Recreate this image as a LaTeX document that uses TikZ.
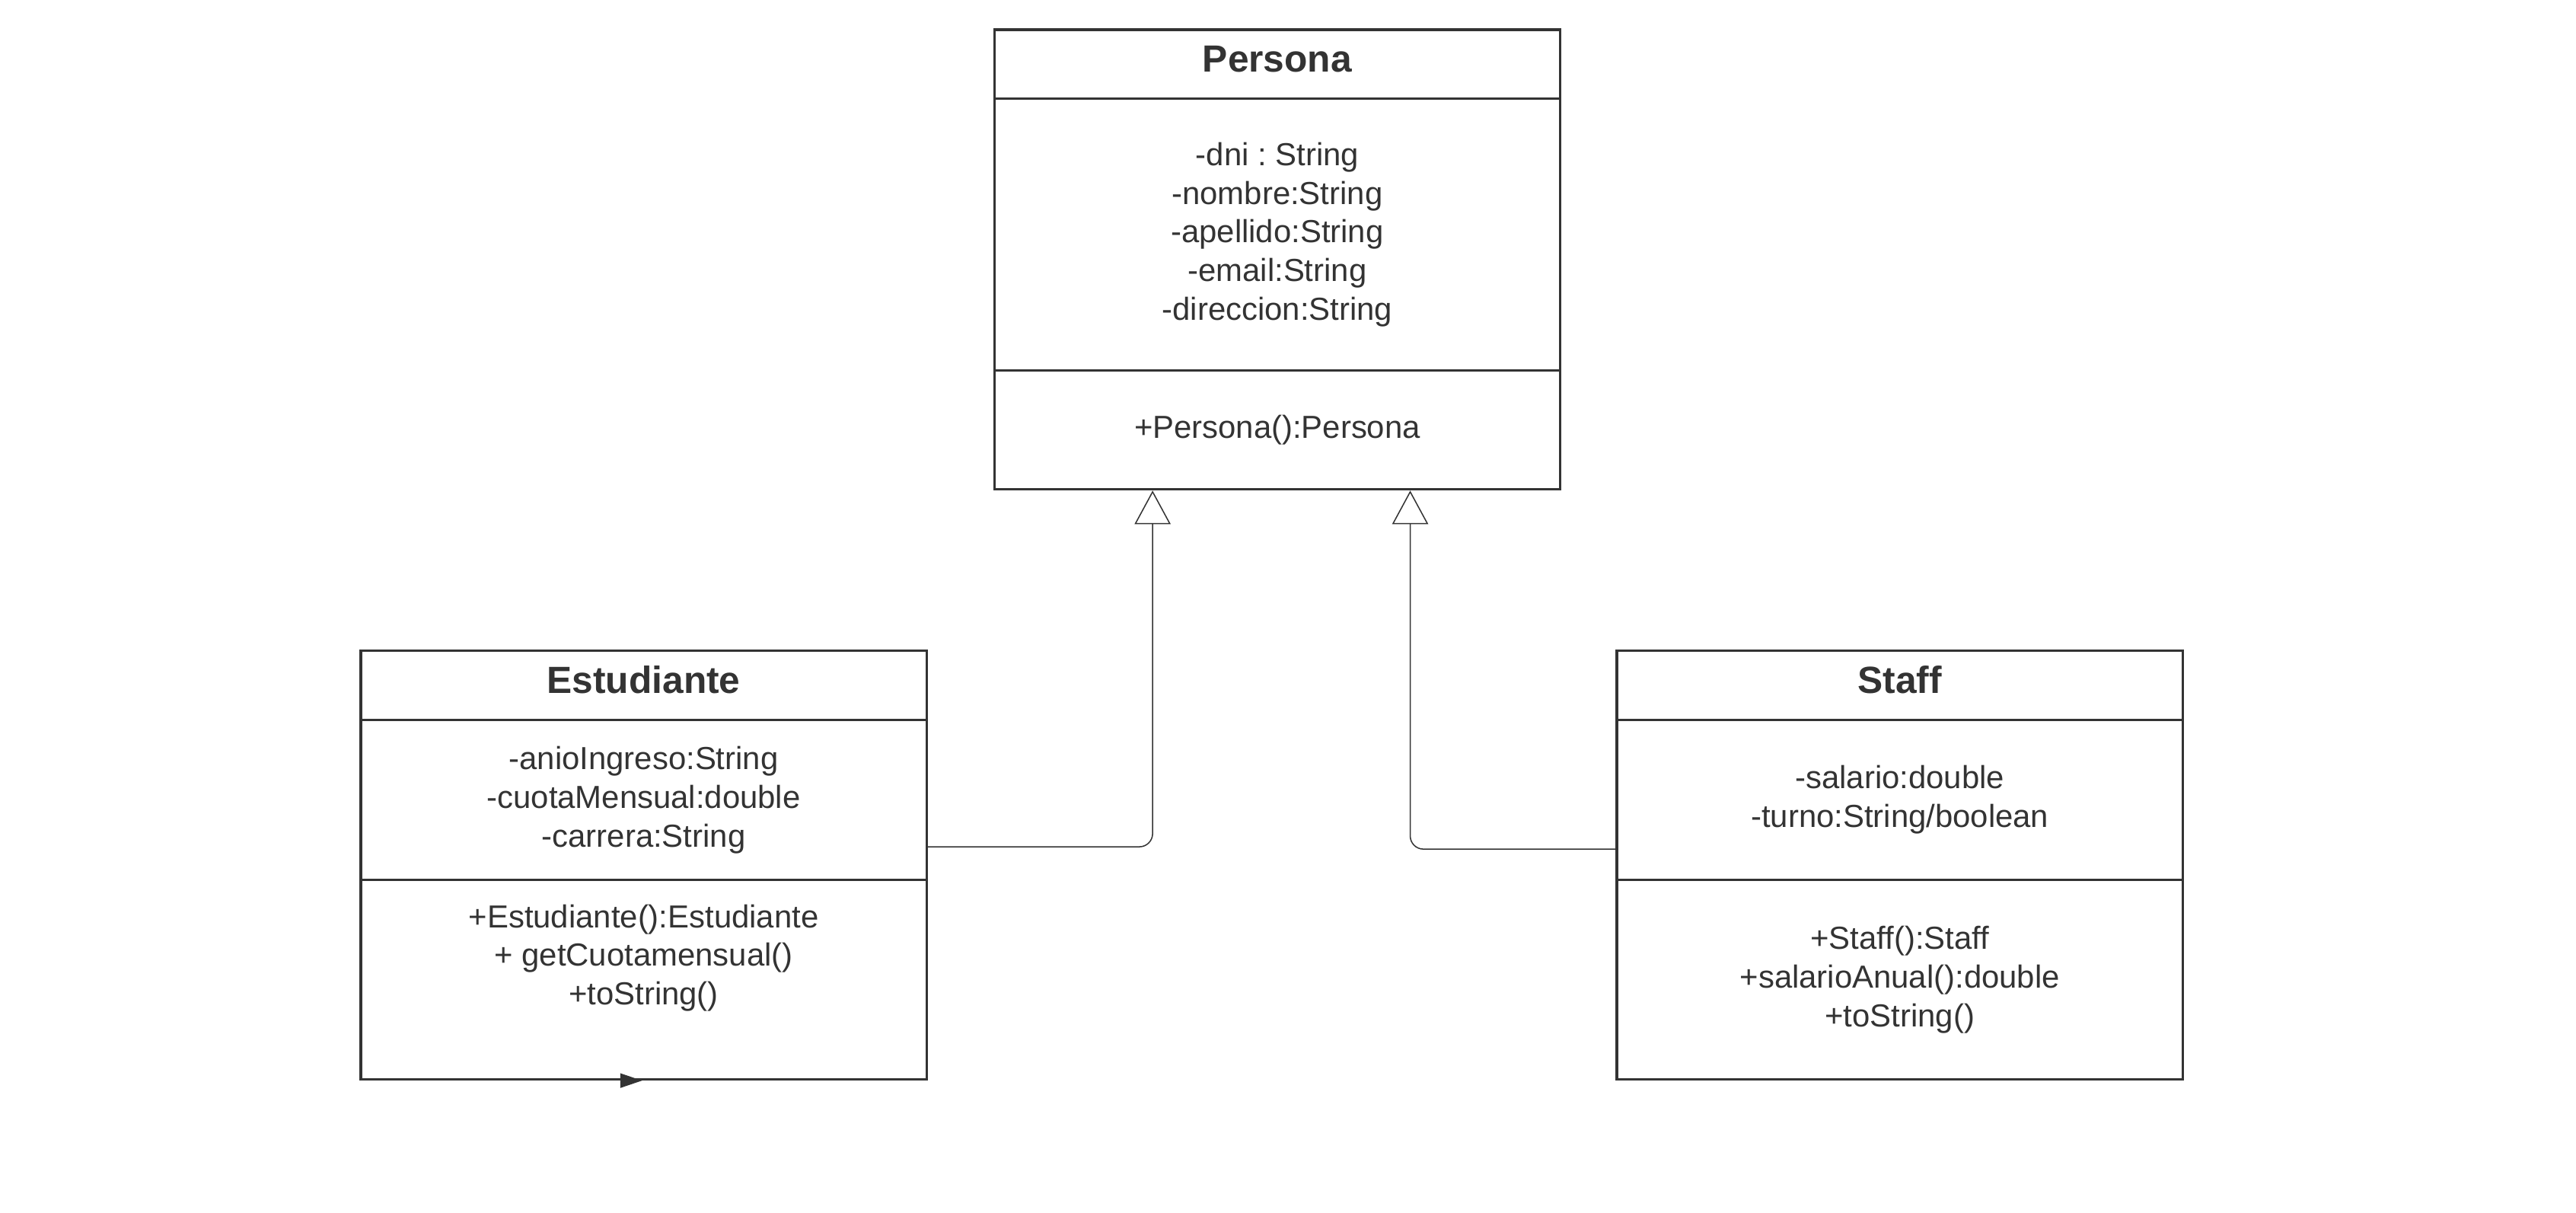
\documentclass[tikz,border=0pt]{standalone}
\usepackage{fontspec}
\setmainfont{Liberation Sans}
\usepackage{xcolor}
\usepackage{tikz}
\usetikzlibrary{arrows.meta}
\definecolor{umlgray}{HTML}{333333}
\frenchspacing
\tikzset{
  head/.style={rectangle,draw=umlgray,line width=1.5pt,minimum width=342.7pt,minimum height=41.7pt,anchor=north,inner sep=0pt,text depth=6.5pt,text=umlgray,font=\fontsize{22.9}{27}\selectfont\bfseries},
  part/.style={rectangle,draw=umlgray,line width=1.5pt,minimum width=342.7pt,anchor=north,inner sep=0pt,align=center,text=umlgray,font=\fontsize{19.3}{23.4}\selectfont},
  inherit/.style={draw=umlgray,line width=0.7pt,rounded corners=8pt,-{Triangle[open,width=21.8pt,length=20.3pt,fill=white]}}
}
\begin{document}
\begin{tikzpicture}[x=1pt,y=-1pt]
\useasboundingbox (0,0) rectangle (1560,734);
\node (1) at (773.5,17.2) [head] {Persona};
\node (2) at (773.5,58.9) [part,minimum height=164.7pt] {-dni : String\\-nombre:String\\-apellido:String\\-email:String\\-direccion:String};
\node (3) at (773.5,223.6) [part,minimum height=71.9pt] {+Persona():Persona};
\node (4) at (389.8,393.3) [head] {Estudiante};
\node (5) at (389.8,435) [part,minimum height=97pt] {-anioIngreso:String\\-cuotaMensual:double\\-carrera:String};
\node (6) at (389.8,532) [part,minimum height=120.7pt] {+Estudiante():Estudiante\\+ getCuotamensual()\\+toString()\\ \strut};
\node (7) at (1150.5,393.3) [head] {Staff};
\node (8) at (1150.5,435) [part,minimum height=97pt] {-salario:double\\-turno:String/boolean};
\node (9) at (1150.5,532) [part,minimum height=120.7pt] {+Staff():Staff\\+salarioAnual():double\\+toString()};
\coordinate (a) at ([xshift=-14.2pt]6.south);
\draw[inherit] ([yshift=-28.4pt]5.east) -| ([xshift=-75.5pt]3.south);
\draw[inherit] ([yshift=-29.8pt]8.west) -| ([xshift=80.5pt]3.south);
\draw[umlgray,line width=0.6pt,-{Triangle[length=13.2pt,width=8.8pt]}] (a) -- ([xshift=-1pt]6.south);
\end{tikzpicture}
\end{document}
